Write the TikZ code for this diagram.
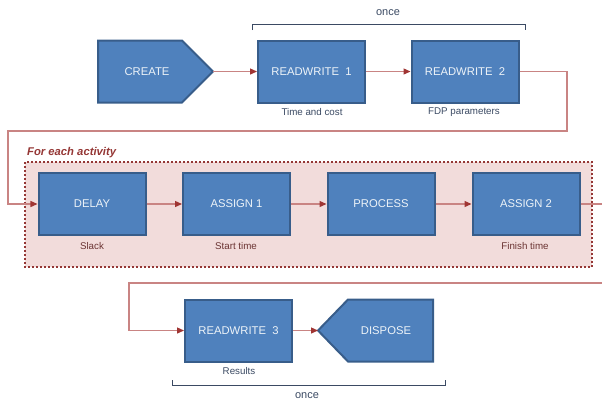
\documentclass[tikz,border=0pt]{standalone}
\usepackage{fontspec}
\setmainfont{Liberation Sans}
\usetikzlibrary{arrows.meta}
\definecolor{boxfill}{HTML}{4F81BD}
\definecolor{boxline}{HTML}{385D8A}
\definecolor{flowline}{HTML}{C98483}
\definecolor{flowtip}{HTML}{A03533}
\definecolor{loopfill}{HTML}{F2DCDB}
\definecolor{loopline}{HTML}{953735}
\definecolor{bluetext}{HTML}{3B4A63}
\definecolor{redtext}{HTML}{6B3433}
\tikzset{
  boxtext/.style={text=white!90!boxfill, font=\fontsize{11.3}{13}\selectfont},
  block/.style={draw=boxline, line width=2bp, fill=boxfill, minimum width=107bp,
    minimum height=62bp, inner sep=0pt, boxtext},
  shapeline/.style={draw=boxline, line width=2bp, fill=boxfill, line join=miter},
  flow/.style={draw=flowline, line width=1.3bp, -{Triangle[length=7bp,width=6bp,color=flowtip]}},
  caption/.style={font=\fontsize{9.8}{11}\selectfont, inner sep=0pt},
  bracket/.style={draw=bluetext, line width=0.9bp},
  oncetext/.style={inner sep=0pt, text=bluetext, font=\fontsize{11}{12}\selectfont},
}
\begin{document}
\begin{tikzpicture}[x=1bp, y=-1bp]
\useasboundingbox (0,0) rectangle (602,405);

% loop region
\draw[loopline, fill=loopfill, line width=2bp, dash pattern=on 2bp off 2bp]
  (25,162) rectangle (592,267);
\node[anchor=west, inner sep=0pt, text=loopline, font=\fontsize{11.3}{13}\selectfont\bfseries\itshape]
  (looplabel) at (27,152.5) {For each activity};

% first row
\path[shapeline]
  (98,40.5) -- (182,40.5) -- (213,71.5) -- (182,102.5) -- (98,102.5) -- cycle;
\node[boxtext] (create) at (147,71.5) {CREATE};
\coordinate (createtip) at (213,71.5);
\node[block] (rw1) at (311.5,71.5) {READWRITE\ \ 1};
\node[block] (rw2) at (465,71.5) {READWRITE\ \ 2};
\node[caption, text=bluetext] (c1) at (312,112) {Time and cost};
\node[caption, text=bluetext] (c2) at (464,112) {FDP parameters};

% second row
\node[block] (delay) at (92,204) {DELAY};
\node[block] (as1) at (236.5,204) {ASSIGN 1};
\node[block] (proc) at (381,204) {PROCESS};
\node[block] (as2) at (526,204) {ASSIGN 2};
\node[caption, text=redtext] (c3) at (92,246) {Slack};
\node[caption, text=redtext] (c4) at (236,246) {Start time};
\node[caption, text=redtext] (c5) at (525,246) {Finish time};

% third row
\node[block] (rw3) at (238.5,330.5) {READWRITE\ \ 3};
\path[shapeline]
  (318,330.5) -- (348,299.5) -- (433,299.5) -- (433,361.5) -- (348,361.5) -- cycle;
\node[boxtext] (dispose) at (386,330.5) {DISPOSE};
\coordinate (disposetip) at (318,330.5);
\node[caption, text=bluetext] (c6) at (239,371) {Results};

% brackets
\draw[bracket] (252,30) -- (252,24.5) -- (525,24.5) -- (525,30);
\node[oncetext] (once1) at (388,13) {once};
\draw[bracket] (172,380) -- (172,385.5) -- (445,385.5) -- (445,380);
\node[oncetext] (once2) at (307,396) {once};

% connectors
\coordinate (r1) at (567,131);
\coordinate (l1) at (8,131);
\coordinate (r2) at (612,283);
\coordinate (l2) at (129,283);
\draw[flow] (createtip) -- (rw1);
\draw[flow] (rw1) -- (rw2);
\draw[flow] (rw2.east) -| (r1) -- (l1) |- (delay.west);
\draw[flow] (delay) -- (as1);
\draw[flow] (as1) -- (proc);
\draw[flow] (proc) -- (as2);
\draw[flow] (as2.east) -| (r2) -- (l2) |- (rw3.west);
\draw[flow] (rw3.east) -- (disposetip);
\end{tikzpicture}
\end{document}
